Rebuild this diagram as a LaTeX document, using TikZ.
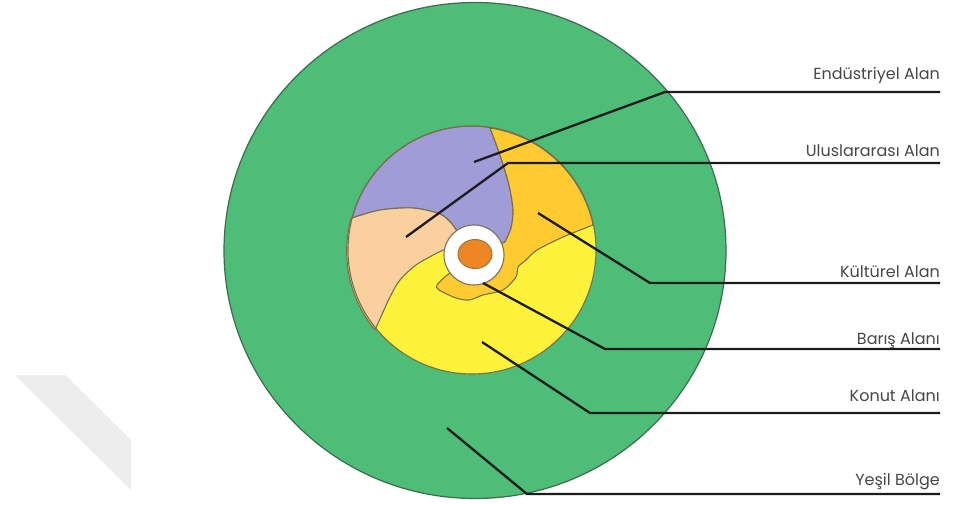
\documentclass[tikz,border=0pt]{standalone}
\usepackage{fontspec}
\setmainfont{Poppins}
\definecolor{zgreen}{HTML}{4DBD78}
\definecolor{zgreenedge}{HTML}{3E6B4E}
\definecolor{zpurple}{HTML}{A09CD8}
\definecolor{zbeige}{HTML}{FAD09F}
\definecolor{zyellow}{HTML}{FFF23A}
\definecolor{zorange}{HTML}{FFCB30}
\definecolor{zcore}{HTML}{EE8624}
\definecolor{zedge}{HTML}{76704C}
\definecolor{linedark}{HTML}{1C1C1C}
\definecolor{labelgray}{HTML}{474747}
\definecolor{wmark}{HTML}{EDEDED}
\tikzset{
  region/.style={draw=zedge, line width=1.1pt, line join=round},
  leader/.style={draw=linedark, line width=2.3pt, line join=miter},
  lbl/.style={font=\fontsize{16}{18}\selectfont, text=labelgray, inner sep=0pt, anchor=base east},
}
\begin{document}
\begin{tikzpicture}[x=1pt,y=-1pt]
\useasboundingbox (0,0) rectangle (954,504);
\fill[white] (0,0) rectangle (954,504);
% watermark
\fill[wmark] (15,375) -- (65,375) -- (131,440) -- (131,490) -- cycle;
% outer green zone
\filldraw[fill=zgreen, draw=zgreenedge, line width=1.2pt] (475,250.5) ellipse[x radius=251, y radius=248];
% inner disc (Konut, yellow)
\fill[zyellow] (472,250) circle[radius=124];
% purple (Endustriyel)
\filldraw[region, fill=zpurple] (352,218) arc[start angle=195, end angle=278.4, radius=124]
  -- plot[smooth] coordinates {(490,128) (500,155) (509,185) (513,210) (511,228) (505,242)}
  -- (474,255)
  -- plot[smooth] coordinates {(458,233) (452,224) (440,214) (413,208) (380,210) (352,218)} -- cycle;
% beige (Uluslararasi)
\filldraw[region, fill=zbeige] (375,330) arc[start angle=140.5, end angle=195, radius=124]
  -- plot[smooth] coordinates {(352,218) (380,210) (413,208) (440,214) (452,224) (458,233)}
  -- (474,255)
  -- plot[smooth] coordinates {(446,249) (437,253) (416,265) (400,280) (390,297) (375,330)} -- cycle;
% orange (Kulturel)
\filldraw[region, fill=zorange] (490,128) arc[start angle=-81.6, end angle=-11.7, radius=124]
  -- plot[smooth, tension=0.5] coordinates {(593,225) (563,237) (537,250) (526,260) (518,267) (516,277) (503,290) (483,295) (469,300) (456,298) (439,290) (437,285) (446,276)}
  -- (474,255) -- (505,242)
  -- plot[smooth] coordinates {(505,242) (511,228) (513,210) (509,185) (500,155) (490,128)} -- cycle;
% inner circle outline
\draw[zedge, line width=1.1pt] (472,250) circle[radius=124];
% peace ring and core
\filldraw[fill=white, draw=zedge!80!gray, line width=1.1pt] (474,255) circle[radius=30];
\filldraw[fill=zcore, draw=zedge!70!zcore, line width=1pt] (475,254) ellipse[x radius=17, y radius=14.5];
% leader coordinates
\coordinate (s1) at (474,162); \coordinate (k1) at (665,92);  \coordinate (e1) at (940,92);
\coordinate (s2) at (406,237); \coordinate (k2) at (508,163); \coordinate (e2) at (940,163);
\coordinate (s3) at (538,213); \coordinate (k3) at (650,283); \coordinate (e3) at (940,283);
\coordinate (s4) at (483,283); \coordinate (k4) at (605,349); \coordinate (e4) at (940,349);
\coordinate (s5) at (482,342); \coordinate (k5) at (590,413); \coordinate (e5) at (940,413);
\coordinate (s6) at (447,428); \coordinate (k6) at (527,494); \coordinate (e6) at (940,494);
\draw[leader] (s1) -- (k1) -- (e1);
\draw[leader] (s2) -- (k2) -- (e2);
\draw[leader] (s3) -- (k3) -- (e3);
\draw[leader] (s4) -- (k4) -- (e4);
\draw[leader] (s5) -- (k5) -- (e5);
\draw[leader] (s6) -- (k6) -- (e6);
% labels
\node[lbl] (l1) at (940,79)  {Endüstriyel Alan};
\node[lbl] (l2) at (940,156) {Uluslararası Alan};
\node[lbl] (l3) at (940,277) {Kültürel Alan};
\node[lbl] (l4) at (940,344) {Barış Alanı};
\node[lbl] (l5) at (940,401) {Konut Alanı};
\node[lbl] (l6) at (940,485) {Yeşil Bölge};
\end{tikzpicture}
\end{document}
